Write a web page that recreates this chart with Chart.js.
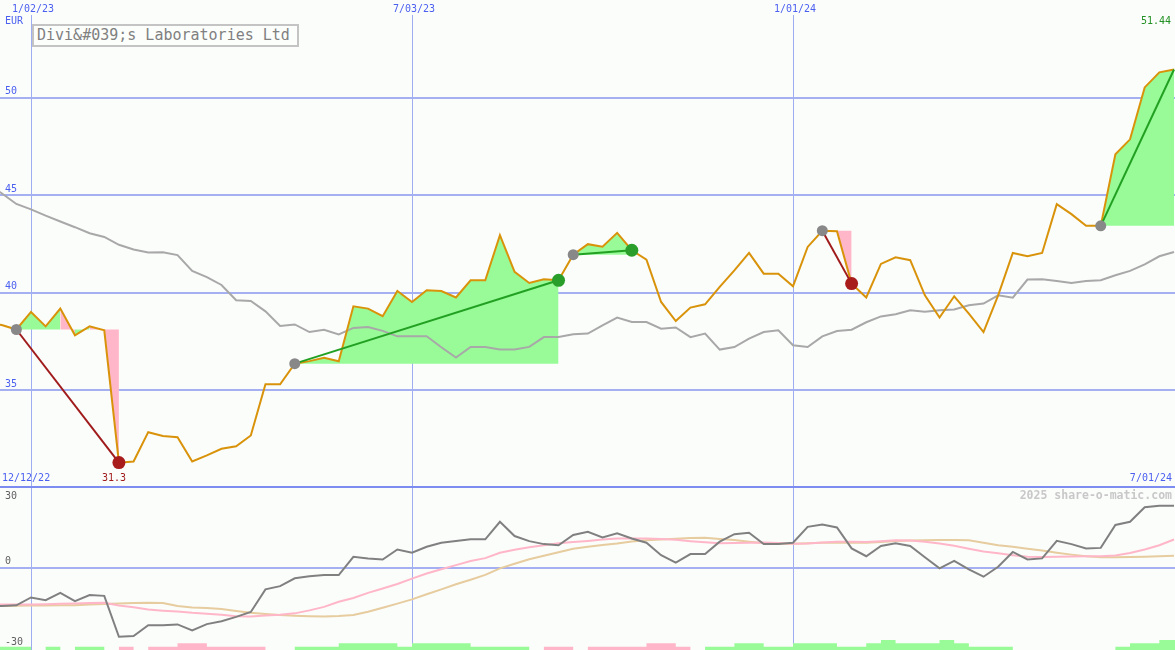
<!DOCTYPE html>
<html>
<head>
<meta charset="utf-8">
<title>Divi's Laboratories Ltd</title>
<script src="https://cdn.jsdelivr.net/npm/chart.js"></script>
<style>
  html, body { margin: 0; padding: 0; background: #fbfdfb; }
  #wrap { position: relative; width: 1175px; height: 650px; overflow: hidden; background: #fbfdfb; }
  #top, #bot { position: absolute; left: 0; }
  #top { top: 0; }
  #bot { top: 486px; }
  #title { position: absolute; left: 32px; top: 24px; width: 267px; height: 23px; box-sizing: border-box;
           border: 2px solid #c4c4c4; background: #fcfefc; color: #808080;
           font: 15px "DejaVu Sans Mono", monospace; line-height: 19px; padding-left: 3px;
           white-space: nowrap; z-index: 2; }
  #wm { position: absolute; right: 3px; top: 489px; font: bold 11.5px "DejaVu Sans Mono", monospace;
        line-height: 13px; color: #c8c8c8; z-index: 2; white-space: nowrap; }
</style>
</head>
<body>
<div id="wrap">
  <canvas id="top" width="1175" height="488"></canvas>
  <canvas id="bot" width="1175" height="164"></canvas>
  <div id="title"></div>
  <div id="wm"></div>
</div>
<script>
// ---------------- data ----------------
const companyName = 'Divi&#039;s Laboratories Ltd';
const currency = 'EUR';
const watermark = '2025 share-o-matic.com';
const rangeLabels = ['12/12/22', '7/01/24'];
const tickWeeks = [3, 29, 55];
const tickLabels = ['1/02/23', '7/03/23', '1/01/24'];
const priceTicks = [35, 40, 45, 50];
const oscTicks = [-30, 0, 30];

// weekly closing price (week 0 = 12/12/22 ... week 81 = 7/01/24)
const price = [
  38.5, 38.35, 38.12, 39.02, 38.28, 39.19, 37.82, 38.28, 38.08, 31.3,
  31.36, 32.86, 32.66, 32.6, 31.36, 31.67, 32.01, 32.14, 32.69, 35.31,
  35.31, 36.37, 36.5, 36.67, 36.49, 39.31, 39.19, 38.8, 40.09, 39.53,
  40.13, 40.09, 39.76, 40.64, 40.64, 42.95, 41.07, 40.5, 40.69, 40.64,
  41.95, 42.49, 42.36, 43.07, 42.18, 41.7, 39.53, 38.55, 39.24, 39.41,
  40.3, 41.15, 42.04, 40.98, 40.98, 40.33, 42.35, 43.18, 43.15, 40.47,
  39.76, 41.48, 41.82, 41.67, 39.87, 38.73, 39.82, 38.93, 37.99, 39.87,
  42.04, 41.87, 42.04, 44.54, 44.03, 43.43, 43.43, 47.1, 47.86, 50.52,
  51.29, 51.44
];
// long moving average (grey)
const priceAvg = [
  45.6, 45.1, 44.55, 44.27, 43.95, 43.65, 43.36, 43.05, 42.86, 42.46,
  42.22, 42.07, 42.08, 41.93, 41.12, 40.8, 40.4, 39.62, 39.58, 39.05,
  38.3, 38.38, 37.99, 38.1, 37.87, 38.2, 38.25, 38.05, 37.77, 37.77,
  37.77, 37.21, 36.68, 37.22, 37.22, 37.09, 37.09, 37.23, 37.73, 37.73,
  37.87, 37.91, 38.33, 38.73, 38.5, 38.5, 38.16, 38.22, 37.73, 37.91,
  37.09, 37.22, 37.65, 37.99, 38.08, 37.31, 37.22, 37.77, 38.04, 38.11,
  38.49, 38.79, 38.9, 39.1, 39.03, 39.1, 39.14, 39.36, 39.45, 39.87,
  39.75, 40.68, 40.69, 40.6, 40.5, 40.6, 40.64, 40.9, 41.12, 41.46,
  41.87, 42.09
];
// trend signals: start week, end week, still open
const trendStart = [2, 21, 40, 57, 76];
const trendEnd   = [9, 39, 44, 59, 81];
const trendOpen  = [false, false, false, false, true];

// lower panel oscillator
const oscLine = [
  -14.0, -14.2, -13.9, -11.0, -12.0, -9.3, -12.4, -10.1, -10.4, -25.6,
  -25.3, -21.3, -21.3, -21.0, -23.2, -20.9, -19.8, -18.2, -16.4, -8.0,
  -6.8, -3.9, -3.1, -2.7, -2.7, 4.1, 3.5, 3.1, 6.8, 5.6,
  7.8, 9.3, 10.0, 10.6, 10.6, 17.1, 11.8, 9.9, 8.8, 8.4,
  12.2, 13.4, 11.3, 12.8, 10.9, 9.3, 4.7, 1.9, 5.1, 5.1,
  9.7, 12.5, 13.0, 8.8, 8.8, 9.3, 15.2, 16.1, 15.0, 7.2,
  4.3, 8.1, 9.1, 8.1, 3.9, -0.2, 2.6, -0.6, -3.3, 0.4,
  5.9, 3.1, 3.5, 10.0, 8.8, 7.2, 7.4, 15.9, 17.1, 22.5,
  23.0, 23.0
];
const oscFast = [
  -13.6, -13.6, -13.6, -13.6, -13.5, -13.3, -13.2, -13.1, -13.0, -14.0,
  -14.6, -15.5, -15.9, -16.2, -16.7, -17.0, -17.4, -18.0, -18.1, -17.7,
  -17.4, -16.9, -15.8, -14.5, -12.6, -11.2, -9.3, -7.7, -6.0, -4.0,
  -2.1, -0.5, 1.0, 2.5, 3.6, 5.6, 6.7, 7.6, 8.4, 9.1,
  9.6, 10.0, 10.5, 10.9, 10.9, 10.9, 10.7, 10.4, 9.9, 9.5,
  9.1, 9.2, 9.3, 9.4, 9.2, 8.9, 9.0, 9.4, 9.7, 9.7,
  9.6, 9.9, 10.2, 10.1, 9.7, 9.0, 8.2, 7.1, 6.1, 5.4,
  4.7, 4.1, 4.0, 4.1, 4.2, 4.3, 4.3, 4.6, 5.5, 6.8,
  8.4, 10.5
];
const oscSlow = [
  -14.2, -14.2, -14.1, -14.0, -14.0, -13.9, -13.9, -13.6, -13.4, -13.2,
  -13.1, -13.0, -13.1, -14.2, -14.7, -14.9, -15.3, -16.0, -16.7, -17.1,
  -17.5, -17.8, -18.0, -18.1, -17.9, -17.5, -16.3, -14.8, -13.3, -11.7,
  -9.8, -8.0, -6.1, -4.4, -2.6, -0.2, 1.5, 3.2, 4.5, 5.8,
  7.1, 7.8, 8.5, 9.0, 9.8, 10.2, 10.5, 10.8, 11.1, 11.2,
  10.7, 10.3, 9.7, 9.2, 9.0, 8.9, 9.1, 9.3, 9.3, 9.3,
  9.3, 9.6, 10.0, 10.1, 10.2, 10.3, 10.3, 10.2, 9.3, 8.4,
  7.8, 7.1, 6.4, 5.6, 4.9, 4.3, 3.9, 3.9, 4.0, 4.1,
  4.3, 4.5
];
// signal strength per week (+ green, - pink)
const signal = [
  1, 1, 1, 0, 1, 0, 1, 1, 0, -1,
  0, -1, -1, -2, -2, -1, -1, -1, -1, 0,
  0, 1, 1, 1, 2, 2, 2, 2, 1, 2,
  2, 2, 2, 1, 1, 1, 1, 0, -1, -1,
  0, -1, -1, -1, -1, -2, -2, -1, 0, 1,
  1, 2, 2, 1, 1, 2, 2, 2, 1, 1,
  2, 3, 2, 2, 2, 3, 2, 1, 1, 1,
  0, 0, 0, 0, 0, 0, 0, 1, 2, 2,
  3, 3
];

// ---------------- styling ----------------
const MONO = '"DejaVu Sans Mono", monospace';
const BLUE = '#4c60f0';
const HGRID = '#a4b0f2';
const VGRID = '#9eacf0';
const DIVIDER = '#7c8cf0';
const ORANGE = '#d9930b';
const GREEN_FILL = '#98fb98';
const PINK_FILL = '#ffb6c8';
const UP = '#22a022';
const DOWN = '#a01c1c';
const X_MIN = 0.8845, X_MAX = 81.068;

document.getElementById('title').textContent = companyName;
document.getElementById('wm').textContent = watermark;

const weekIndex = price.map((_, i) => i);
Chart.defaults.font.family = MONO;

const zeroWidth = s => { s.width = 0; s.paddingTop = 0; s.paddingBottom = 0; };
const zeroHeight = s => { s.height = 0; s.paddingLeft = 0; s.paddingRight = 0; };

// ---------------- top panel ----------------
const topSets = [];
trendStart.forEach((s, k) => {
  const e = trendEnd[k], base = price[s];
  topSets.push({
    data: weekIndex.map(i => (i >= s && i <= e) ? base : null),
    borderWidth: 0, borderColor: 'rgba(0,0,0,0)', fill: false, order: 10
  });
});
trendStart.forEach((s, k) => {
  const e = trendEnd[k], base = price[s];
  topSets.push({
    data: weekIndex.map(i => (i >= s && i <= e) ? price[i] : null),
    borderWidth: 0, borderColor: 'rgba(0,0,0,0)',
    backgroundColor: GREEN_FILL,
    fill: { target: k },
    segment: { backgroundColor: c => price[c.p1DataIndex] >= base ? GREEN_FILL : PINK_FILL },
    order: 9
  });
});
topSets.push({ data: priceAvg, borderColor: '#a8a8a8', borderWidth: 2, fill: false, order: 5 });
topSets.push({ data: price, borderColor: ORANGE, borderWidth: 2, fill: false, order: 4 });
trendStart.forEach((s, k) => {
  const e = trendEnd[k];
  const up = price[e] >= price[s];
  topSets.push({
    data: [{ x: s, y: price[s] }, { x: e, y: price[e] }],
    borderColor: up ? UP : DOWN, borderWidth: 2, fill: false,
    pointRadius: [5.5, trendOpen[k] ? 0 : 6.5],
    pointBackgroundColor: ['#888888', up ? '#2a9e2a' : '#a81c1c'],
    pointBorderWidth: 0,
    order: 1
  });
});

const topTexts = {
  id: 'topTexts',
  afterDraw(chart) {
    const { ctx, scales: { x } } = chart;
    const lowVal = Math.min(...price);
    const lowIdx = price.indexOf(lowVal);
    const highVal = Math.max(...price);
    ctx.save();
    ctx.font = '10px ' + MONO;
    ctx.textBaseline = 'middle';
    ctx.fillStyle = BLUE;
    ctx.textAlign = 'center';
    tickWeeks.forEach((w, k) => ctx.fillText(tickLabels[k], x.getPixelForValue(w) + 2, 9));
    ctx.textAlign = 'left';
    ctx.fillText(currency, 5, 21.5);
    ctx.fillText(rangeLabels[0], 2, 478.5);
    ctx.textAlign = 'right';
    ctx.fillText(rangeLabels[1], 1172, 478.5);
    ctx.fillStyle = '#a01c1c';
    ctx.textAlign = 'center';
    ctx.fillText(String(lowVal), x.getPixelForValue(lowIdx) - 5, 478.5);
    ctx.fillStyle = '#229022';
    ctx.textAlign = 'right';
    ctx.fillText(String(highVal), 1171, 21);
    ctx.restore();
  }
};

new Chart(document.getElementById('top'), {
  type: 'line',
  data: { labels: weekIndex, datasets: topSets },
  options: {
    responsive: false, maintainAspectRatio: false, animation: false, devicePixelRatio: 1, events: [],
    layout: { padding: { top: 15, left: 0, right: 0, bottom: 0 }, autoPadding: false },
    plugins: { legend: { display: false }, tooltip: { enabled: false } },
    elements: { point: { radius: 0 }, line: { tension: 0 } },
    scales: {
      x: {
        type: 'linear', position: 'top', min: X_MIN, max: X_MAX, offset: false,
        afterBuildTicks: s => { s.ticks = tickWeeks.map(v => ({ value: v })); },
        afterFit: zeroHeight,
        ticks: { display: false },
        grid: { color: VGRID, lineWidth: 1, drawTicks: false, offset: false },
        border: { display: false }
      },
      y: {
        type: 'linear', position: 'left', min: 30, max: 54.23,
        afterBuildTicks: s => { s.ticks = priceTicks.map(v => ({ value: v })); },
        afterFit: zeroWidth,
        ticks: {
          mirror: true, padding: 5, labelOffset: -6, color: BLUE,
          font: { family: MONO, size: 10 }, callback: v => String(v)
        },
        grid: { color: HGRID, lineWidth: 2, drawTicks: false },
        border: { display: false }
      }
    }
  },
  plugins: [topTexts]
});

// ---------------- bottom panel ----------------
const stepPts = sel => signal.map((v, i) => ({ x: i, y: sel(v) }))
  .concat([{ x: signal.length, y: sel(signal[signal.length - 1]) }]);

const botTexts = {
  id: 'botTexts',
  afterDraw(chart) {
    const { ctx, scales: { y } } = chart;
    ctx.save();
    ctx.font = '10px ' + MONO;
    ctx.textBaseline = 'middle';
    ctx.textAlign = 'left';
    ctx.fillStyle = '#606060';
    const top = oscTicks[oscTicks.length - 1];
    ctx.fillText(String(top), 5, y.getPixelForValue(top) + 9);
    ctx.restore();
  }
};

new Chart(document.getElementById('bot'), {
  type: 'line',
  data: {
    labels: weekIndex,
    datasets: [
      { data: oscLine, borderColor: '#808080', borderWidth: 2, fill: false, order: 1 },
      { data: oscFast, borderColor: '#ffb6c8', borderWidth: 2, fill: false, order: 2 },
      { data: oscSlow, borderColor: '#e6cc9e', borderWidth: 2, fill: false, order: 3 },
      { data: stepPts(v => v > 0 ? v : 0), stepped: true, borderWidth: 0, borderColor: 'rgba(0,0,0,0)',
        backgroundColor: GREEN_FILL, fill: 'origin', yAxisID: 'ys', order: 6 },
      { data: stepPts(v => v < 0 ? -v : 0), stepped: true, borderWidth: 0, borderColor: 'rgba(0,0,0,0)',
        backgroundColor: PINK_FILL, fill: 'origin', yAxisID: 'ys', order: 6 }
    ]
  },
  options: {
    responsive: false, maintainAspectRatio: false, animation: false, devicePixelRatio: 1, events: [],
    layout: { padding: { top: 1, left: 0, right: 0, bottom: 0 }, autoPadding: false },
    plugins: { legend: { display: false }, tooltip: { enabled: false } },
    elements: { point: { radius: 0 }, line: { tension: 0 } },
    scales: {
      x: {
        type: 'linear', position: 'bottom', min: X_MIN, max: X_MAX, offset: false,
        afterBuildTicks: s => { s.ticks = tickWeeks.map(v => ({ value: v })); },
        afterFit: zeroHeight,
        ticks: { display: false },
        grid: { color: VGRID, lineWidth: 1, drawTicks: false, offset: false },
        border: { display: false }
      },
      y: {
        type: 'linear', position: 'left', min: -30.5, max: 30,
        afterBuildTicks: s => { s.ticks = oscTicks.map(v => ({ value: v })); },
        afterFit: zeroWidth,
        ticks: {
          mirror: true, padding: 5, color: '#606060', labelOffset: -6,
          font: { family: MONO, size: 10 },
          callback: v => v === oscTicks[oscTicks.length - 1] ? '' : String(v)
        },
        grid: {
          lineWidth: 2, drawTicks: false,
          color: c => c.tick.value === 30 ? DIVIDER : (c.tick.value === 0 ? HGRID : 'rgba(0,0,0,0)')
        },
        border: { display: false }
      },
      ys: { type: 'linear', display: false, min: 0, max: 49 }
    }
  },
  plugins: [botTexts]
});
</script>
</body>
</html>
